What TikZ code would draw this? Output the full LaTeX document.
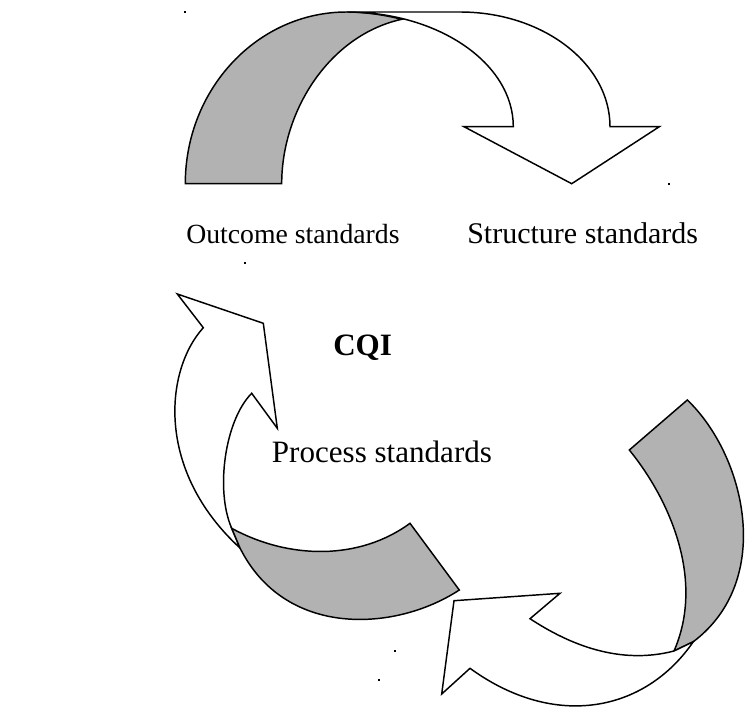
\documentclass[tikz,border=0pt]{standalone}
\usepackage{fontspec}
\setmainfont{Liberation Serif}
\begin{document}
\begin{tikzpicture}[x=0.75pt,y=-0.75pt,
  band/.style={draw=black,line width=1.1pt,line join=miter,fill=white},
  backband/.style={draw=black,line width=1.1pt,line join=miter,fill=gray!60},
  smalllbl/.style={anchor=base west,inner sep=0pt,font=\fontsize{20.8}{25}\selectfont},
  lbl/.style={anchor=base west,inner sep=0pt,font=\fontsize{22.5}{27}\selectfont},
  biglbl/.style={anchor=base west,inner sep=0pt,font=\fontsize{23.3}{28}\selectfont},
  boldlbl/.style={anchor=base west,inner sep=0pt,font=\fontsize{23.3}{28}\selectfont\bfseries},
  speck/.style={fill=black,draw=none}]
\useasboundingbox (0,0) rectangle (748,706);
% ---------- top arrow ----------
\path[backband] (185.3,183.7) .. controls (185.3,89) and (257.5,12) .. (346.7,12)
  .. controls (365,12) and (385,15) .. (401.7,19.3)
  .. controls (330,35) and (281.7,110) .. (281.7,183.7) -- cycle;
\path[band] (346.7,12) -- (460,12)
  .. controls (542.8,12) and (610,63.5) .. (610,126.7)
  -- (659.3,126.7) -- (571.7,183.7) -- (464,126.7) -- (513.3,126.7)
  .. controls (513.3,63.5) and (438.7,12) .. (346.7,12) -- cycle;
% ---------- left arrow ----------
\path[band] (203.3,327.7) -- (177.3,294) -- (263.3,323.3) -- (277.3,428.3) -- (251.7,393.3)
  .. controls (225,420) and (215,490) .. (231.7,528.3)
  -- (240,548)
  .. controls (155,470) and (165,370) .. (203.3,327.7) -- cycle;
\path[backband] (231.7,528.3) .. controls (290,560) and (360,560) .. (410,523.3)
  -- (459.3,590)
  .. controls (395,632) and (285,638) .. (240,548) -- cycle;
% ---------- right arrow ----------
\path[backband] (687.3,400) .. controls (745,455) and (775,580) .. (693.3,641.7)
  -- (674,651)
  .. controls (705,580) and (670,500) .. (629.3,450) -- cycle;
\path[band] (693.3,641.7) .. controls (645,712) and (555,730) .. (470,668.3)
  -- (441.7,694) -- (454,600.7) -- (560,593.3) -- (530,618.7)
  .. controls (570,645) and (620,665) .. (674,651) -- cycle;
% ---------- labels ----------
\node[smalllbl] (outcome) at (186,243) {Outcome standards};
\node[lbl] (structure) at (467,243) {Structure standards};
\node[boldlbl] (cqi) at (333,355) {CQI};
\node[biglbl] (process) at (271.7,462) {Process standards};
% ---------- specks ----------
\fill[speck] (184.3,11) rectangle (186.3,13);
\fill[speck] (668,183) rectangle (670,185);
\fill[speck] (394,649.7) rectangle (396,651.7);
\fill[speck] (378,679) rectangle (380,681);
\fill[speck] (244,262) rectangle (246,264);
\end{tikzpicture}
\end{document}
